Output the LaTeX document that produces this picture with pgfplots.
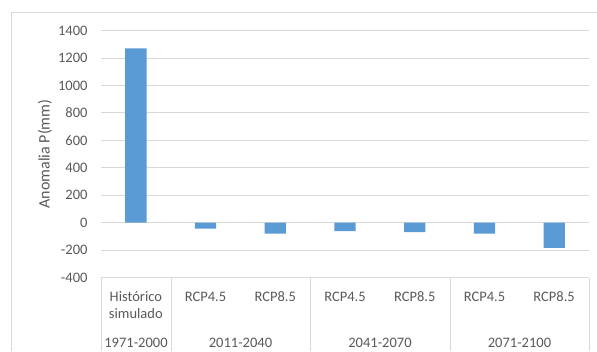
\documentclass[border=0pt]{standalone}
\usepackage{fontspec}
\setmainfont{Carlito}
\usepackage{pgfplots}
\pgfplotsset{compat=1.18}
\definecolor{barblue}{HTML}{5B9BD5}
\definecolor{txt}{HTML}{595959}
\definecolor{gridc}{HTML}{D9D9D9}
\begin{document}
\begin{tikzpicture}[x=1bp,y=1bp]
\useasboundingbox (0,0) rectangle (597,-351);
\draw[gridc, line width=0.8bp] (11,-351) -- (11,-12.3) -- (597,-12.3);
\begin{axis}[
  at={(101bp,-277.4bp)}, anchor=south west,
  scale only axis, width=488bp, height=246.9bp,
  xmin=-0.5, xmax=6.5, ymin=-400, ymax=1400,
  ytick={-400,-200,...,1400},
  xtick={0,...,6},
  xticklabels={{Histórico\\simulado},RCP4.5,RCP8.5,RCP4.5,RCP8.5,RCP4.5,RCP8.5},
  axis line style={draw=none},
  major tick length=0pt,
  ymajorgrids, grid style={gridc, line width=0.8bp},
  /pgf/number format/assume math mode=true,
  /pgf/number format/1000 sep={},
  tick label style={font=\fontsize{14.5bp}{17bp}\selectfont, text=txt},
  yticklabel style={anchor=east, xshift=-10bp},
  xticklabel style={anchor=north, align=center, yshift=-11bp},
  ylabel={Anomalia P(mm)},
  ylabel style={font=\fontsize{16bp}{19bp}\selectfont, text=txt},
  every axis y label/.append style={at={(axis description cs:-0.1148,0.5)}, anchor=center},
  clip=false,
]
\addplot[ybar, bar width=21.3bp, bar shift=0pt, fill=barblue, draw=none]
  coordinates {(0,1270) (1,-44) (2,-80) (3,-63) (4,-69) (5,-80) (6,-185)};
\end{axis}
\foreach \xx in {101,171,310,450,589} {\draw[gridc, line width=0.8bp] (\xx,-278) -- (\xx,-351);}
\begin{scope}[every node/.style={text=txt, font=\fontsize{14.5bp}{17bp}\selectfont}]
\node at (136,-342.7) {1971-2000};
\node at (240.5,-342.7) {2011-2040};
\node at (380,-342.7) {2041-2070};
\node at (519.5,-342.7) {2071-2100};
\end{scope}
\end{tikzpicture}
\end{document}
